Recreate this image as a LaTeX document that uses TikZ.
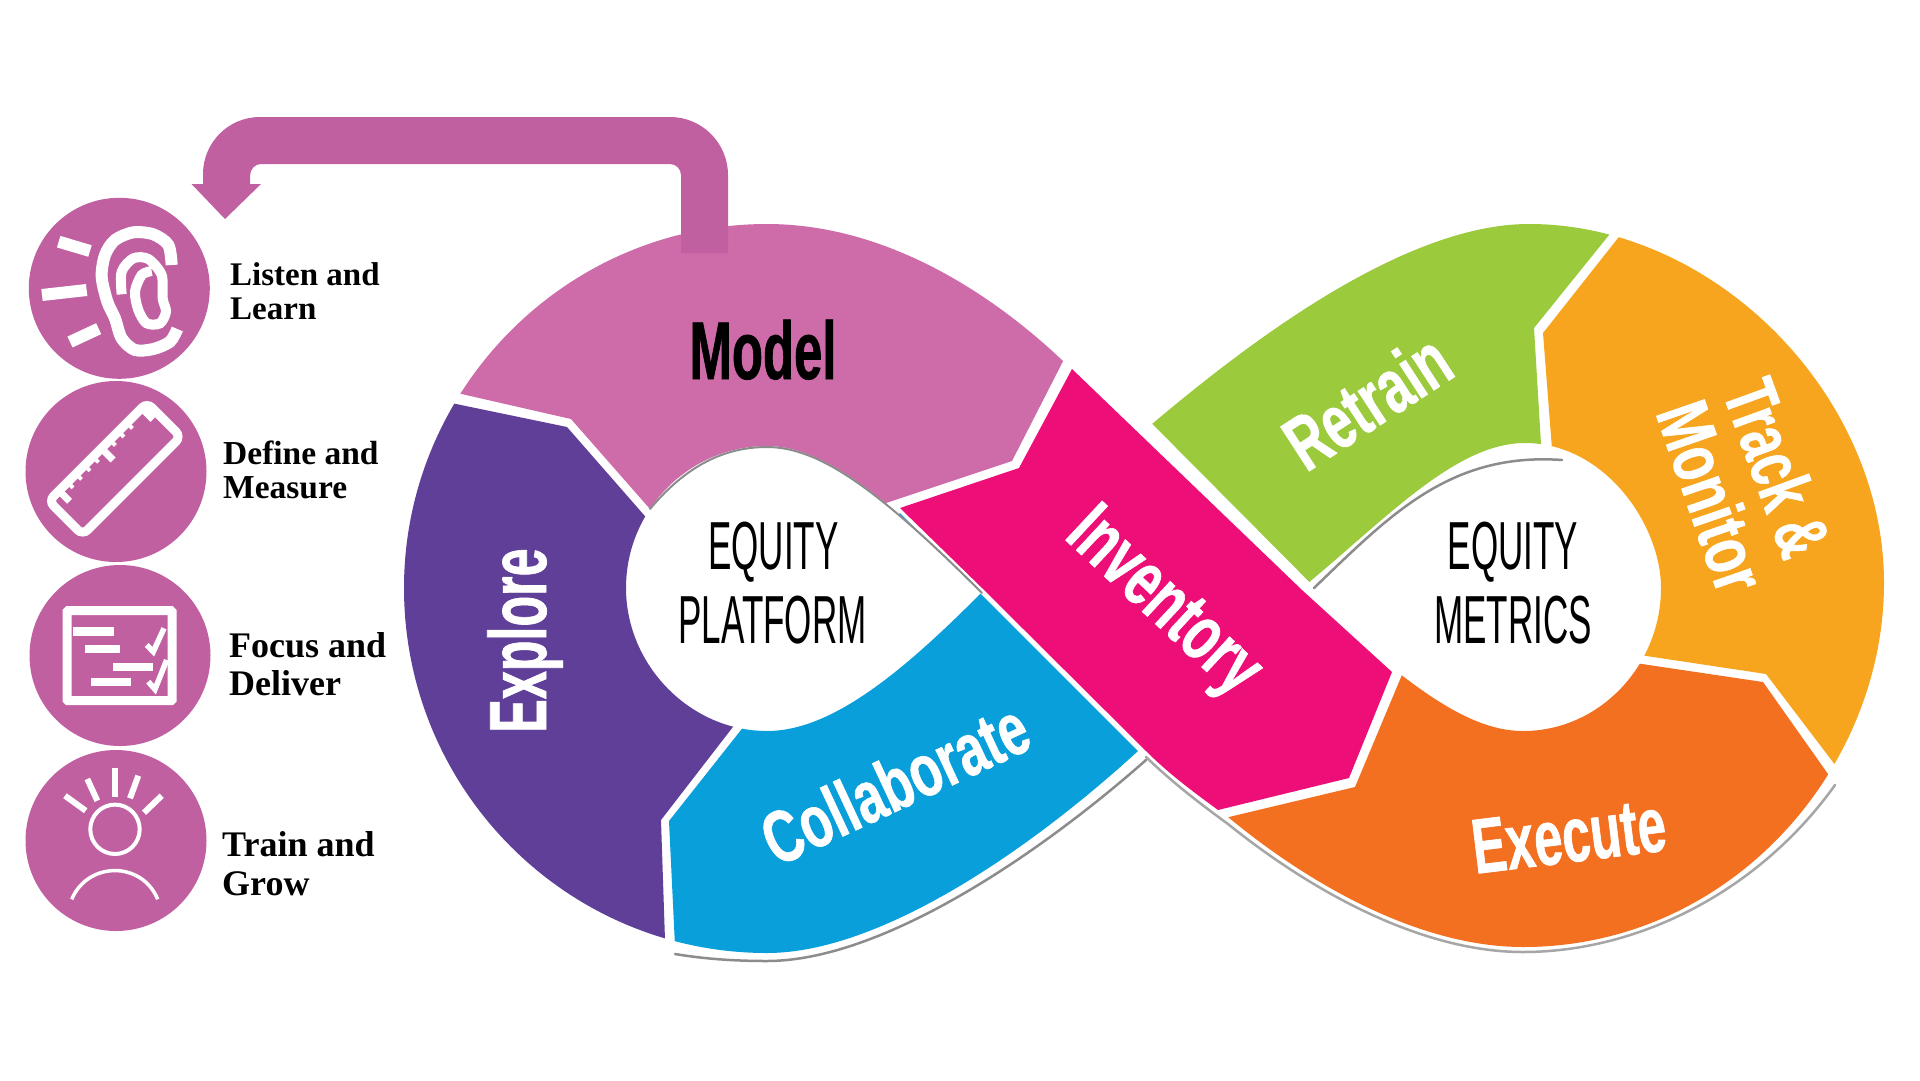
\documentclass[tikz,border=0pt]{standalone}
\usepackage{fontspec}
\setmainfont{Liberation Serif}
\newfontfamily\segfont{Liberation Sans}
\newcommand{\segsize}[2]{\bfseries\fontsize{#1}{#1}\selectfont\addfontfeature{FakeStretch=#2,FakeBold=0.8}}
\newcommand{\bandpiece}[3]{\begin{scope}\clip #3;\fill[#1,even odd rule,#2];\end{scope}}
\definecolor{modelpink}{HTML}{CE6BA9}
\definecolor{badgepink}{HTML}{C160A1}
\definecolor{explorepurple}{HTML}{603F99}
\definecolor{collabblue}{HTML}{089FDB}
\definecolor{inventorypink}{HTML}{EE0E78}
\definecolor{retraingreen}{HTML}{9BCA3C}
\definecolor{trackorange}{HTML}{F7A51E}
\definecolor{executeorange}{HTML}{F37021}
\tikzset{
        badge/.style={circle,fill=badgepink,minimum size=181pt,inner sep=0pt},
        caption/.style={anchor=north west,align=left,inner sep=0pt,font=\bfseries\fontsize{33}{34}\selectfont},
        seglabel/.style={anchor=base,inner sep=0pt,text=white},
        hublabel/.style={anchor=base,inner sep=0pt,font=\segfont\fontsize{68}{68}\selectfont\addfontfeature{FakeStretch=0.515}},
        iconline/.style={draw=white,line width=#1},
        rimshadow/.style={draw=black!45,line width=2.5pt,line cap=round},
        leftband/.style={insert path={
                (404,588) .. controls (404,388) and (567,224) .. (767,224)
                .. controls (880,224) and (985,287) .. (1063,361) -- (1138,751)
                .. controls (1030,850) and (880,953) .. (767,953)
                .. controls (567,953) and (404,790) .. (404,588) -- cycle
                (626,588) .. controls (626,509) and (690,446) .. (767,446)
                .. controls (820,446) and (880,490) .. (982,592)
                .. controls (900,675) and (830,731) .. (767,731)
                .. controls (690,731) and (626,665) .. (626,588) -- cycle}},
        rightband/.style={insert path={
                (1884,583) .. controls (1884,395) and (1715,224) .. (1529,224)
                .. controls (1400,224) and (1240,350) .. (1152,424) -- (1228,817)
                .. controls (1310,885) and (1420,947) .. (1523,947)
                .. controls (1730,947) and (1884,770) .. (1884,583) -- cycle
                (1661,588) .. controls (1661,525) and (1605,443) .. (1525,443)
                .. controls (1455,443) and (1385,520) .. (1302,588)
                .. controls (1410,690) and (1470,731) .. (1523,731)
                .. controls (1600,731) and (1661,665) .. (1661,588) -- cycle}},
}

\begin{document}
\begin{tikzpicture}[x=1pt,y=-1pt]
        \useasboundingbox (0,0) rectangle (1920,1080);
        \fill[white] (0,0) rectangle (1920,1080);

        % Shadows under the band
        \draw[rimshadow] (675,954) .. controls (705,959) and (735,961) .. (767,961)
                .. controls (880,961) and (1035,858) .. (1146,760);
        \draw[rimshadow,black!35] (1146,757) .. controls (1170,780) and (1195,800) .. (1228,824)
                .. controls (1310,890) and (1420,952) .. (1523,952)
                .. controls (1640,952) and (1760,890) .. (1835,785);
        \draw[rimshadow] (1314,588) .. controls (1390,515) and (1450,452) .. (1562,460);

        % Left loop
        \bandpiece{modelpink}{leftband}{(361,371) -- (571,419) -- (700,566) -- (800,532) -- (892,501) -- (1012,461) -- (1103,283) -- (1103,150) -- (361,150) -- cycle}
        \bandpiece{explorepurple}{leftband}{(355,383) -- (567,427) -- (700,579) -- (780,666) -- (661,820) -- (667,1000) -- (300,1000) -- (300,383) -- cycle}
        \bandpiece{collabblue}{leftband}{(790,668) -- (900,513) -- (1300,913) -- (1300,1050) -- (680,1050) -- (669,821) -- cycle}
        \draw[rimshadow,line width=2pt] (650,509) .. controls (690,461) and (730,447) .. (767,447)
                .. controls (820,447) and (880,491) .. (982,593);

        % Crossing band
        \fill[inventorypink] (1072,369) -- (1019,468) -- (900,508) -- (982,588) -- (1146,751)
                .. controls (1170,775) and (1195,793) .. (1218,810)
                -- (1349,778) -- (1392,672) -- (1302,590) -- cycle;

        % Right loop
        \bandpiece{retraingreen}{rightband}{(1680,147) -- (1534,328) -- (1548,560) -- (1380,653) -- (1052,323) -- (1052,147) -- cycle}
        \bandpiece{trackorange}{rightband}{(1697,138) -- (1543,333) -- (1560,552) -- (1547,641) -- (1766,674) -- (1912,866) -- (1950,866) -- (1950,138) -- cycle}
        \bandpiece{executeorange}{rightband}{(1541,649) -- (1763,682) -- (1900,876) -- (1900,1050) -- (1128,1050) -- (1128,841) -- (1355,787) -- (1430,608) -- cycle}

        % Return arrow
        \fill[badgepink] (681,253) -- (728,253) -- (728,175) .. controls (728,143) and (702,117) .. (670,117)
                -- (260,117) .. controls (228,117) and (203,143) .. (203,174) -- (203,184)
                -- (191.5,184) -- (225,219) -- (261,184) -- (250,184) -- (250,176)
                .. controls (250,169) and (255,164) .. (261,164) -- (670,164)
                .. controls (676,164) and (681,169) .. (681,175) -- cycle;

        % Segment labels
        \node (model) [seglabel,text=black,font=\segfont\segsize{82}{0.62}] at (763,379) {Model};
        \node (explore) [seglabel,rotate=90,font=\segfont\segsize{81}{0.62}] at (546,640.5) {Explore};
        \node (collaborate) [seglabel,rotate=25,font=\segfont\segsize{74}{0.7}] at (906,807) {Collaborate};
        \node (inventory) [seglabel,rotate=-43,font=\segfont\segsize{78}{0.67}] at (1149,618) {Inventory};
        \node (retrain) [seglabel,rotate=33,font=\segfont\segsize{77}{0.68}] at (1382,424) {Retrain};
        \node (track) [seglabel,rotate=-70,font=\segfont\segsize{74}{0.68}] at (1753,477) {Track \&};
        \node (monitor) [seglabel,rotate=-71,font=\segfont\segsize{74}{0.72}] at (1687,505) {Monitor};
        \node (execute) [seglabel,rotate=7,font=\segfont\segsize{78}{0.65}] at (1572,862) {Execute};

        % Hubs
        \node (equityleft) [hublabel] at (773.5,569.5) {EQUITY};
        \node (platform) [hublabel] at (772.5,643) {PLATFORM};
        \node (equityright) [hublabel] at (1513,569.5) {EQUITY};
        \node (metrics) [hublabel] at (1513,643) {METRICS};

        % Badges
        \node (earbadge) [badge] at (119.3,288.3) {};
        \node (rulerbadge) [badge] at (116,471.5) {};
        \node (boardbadge) [badge] at (120,655.5) {};
        \node (headbadge) [badge] at (116,840.5) {};

        % Ear
        \begin{scope}[shift={(20,195)},scale=1/3]
        \draw[iconline=12pt] (116,140) -- (210,168);
        \draw[iconline=12pt] (66,300) -- (200,285);
        \draw[iconline=12pt] (150,441) -- (236,401);
        \draw[iconline=12pt] plot[smooth] coordinates {(455,210) (445,150) (400,118) (340,112) (285,135) (255,180) (245,245) (262,320) (285,370) (305,430) (345,465) (400,462) (450,440) (472,402)};
        \draw[iconline=10pt] plot[smooth] coordinates {(305,298) (305,230) (340,190) (385,192) (425,240) (428,310) (438,350) (420,385) (380,385) (355,345) (345,290) (365,240) (395,228)};
        \end{scope}

        % Ruler
        \begin{scope}[shift={(114.8,468.8)},rotate=45]
        \draw[iconline=9pt,rounded corners=7pt] (-69.5,-24) rectangle (69.5,24);
        \draw[iconline=7pt] (-55,-24) -- (-55,-9);
        \draw[iconline=7pt] (5,-24) -- (5,-7.5);
        \draw[iconline=7pt] (62,-24) -- (62,-8);
        \foreach \tx in {-43,-31,-19,-7,17,29,41} {
                \draw[iconline=4pt] (\tx,-24) -- (\tx,-16);
        }
        \end{scope}

        % Board
        \draw[iconline=9pt,rounded corners=1pt] (67,610.7) rectangle (172,700.7);
        \fill[white] (73.3,627) rectangle (114,635.7);
        \fill[white] (85,645) rectangle (120,652.7);
        \fill[white] (113.3,662.7) rectangle (153.3,671);
        \fill[white] (91,677.7) rectangle (131,686);
        \draw[iconline=5.5pt] (146.7,645) -- (153.3,651.7) -- (164,628.3);
        \draw[iconline=5.5pt] (148.3,681.7) -- (155,689.3) -- (166.7,660);

        % Head and rays
        \draw[iconline=4pt] (115,829.3) circle (24.7pt);
        \draw[iconline=6pt] (114.7,768.3) -- (114.7,796.7);
        \draw[iconline=6pt] (87.3,779) -- (97.3,800.7);
        \draw[iconline=6pt] (138.3,775.7) -- (130,798.3);
        \draw[iconline=6pt] (65,795.7) -- (85.7,810.7);
        \draw[iconline=6pt] (161.7,795.7) -- (144,812.7);
        \draw[iconline=3.5pt] (71.7,899.3) .. controls (88,861) and (142,861) .. (157.7,899.3);

        % Captions
        \node (listen) [caption] at (230,262) {Listen and\\Learn};
        \node (define) [caption,font=\bfseries\fontsize{33.5}{34}\selectfont] at (223,441) {Define and\\Measure};
        \node (focus) [caption,font=\bfseries\fontsize{36}{38}\selectfont] at (229,632) {Focus and\\Deliver};
        \node (train) [caption,font=\bfseries\fontsize{36}{39}\selectfont] at (222,831) {Train and\\Grow};
\end{tikzpicture}
\end{document}
